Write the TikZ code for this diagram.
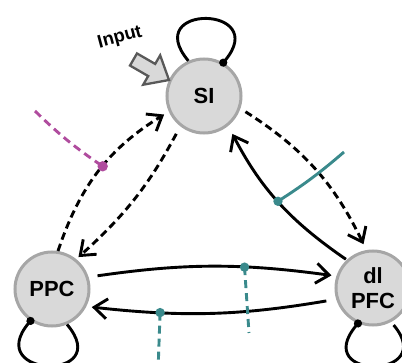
\documentclass[tikz,border=0pt]{standalone}
\usepackage{fontspec}
\setmainfont{Liberation Sans}
\usetikzlibrary{arrows.meta}
\definecolor{nodefill}{HTML}{D9D9D9}
\definecolor{nodeedge}{HTML}{A6A6A6}
\definecolor{magline}{HTML}{B04C9E}
\definecolor{tealline}{HTML}{3A8A8C}
\definecolor{inputedge}{HTML}{595959}
\begin{document}
\begin{tikzpicture}[x=1bp,y=1bp,
  area/.style={circle, draw=nodeedge, fill=nodefill, line width=3bp, minimum size=74bp, inner sep=0pt,
    font=\fontsize{22}{25}\selectfont\bfseries, align=center},
  conn/.style={line width=2.9bp, -{Straight Barb[length=13bp,width=20bp]}},
  dashedconn/.style={conn, dash pattern=on 7.5bp off 4.5bp},
  selfloop/.style={line width=2.9bp, -{Circle[length=8bp]}, shorten >=-4bp},
  modline/.style={line width=2.9bp},
  moddash/.style={modline, dash pattern=on 8bp off 5bp},
  inputarrow/.style={line width=2.3bp, draw=inputedge, fill=nodefill, line join=miter}
]
\useasboundingbox (0,0) rectangle (402,363);

% areas
\node[area] (SI) at (204,267) {SI};
\node[area] (PPC) at (52,74) {PPC};
\node[area] (PFC) at (373,75) {dl\\PFC};

% input
\node[font=\fontsize{18.5}{21}\selectfont\bfseries, rotate=15] (input) at (120,325) {Input};
\draw[inputarrow, shift={(169,283)}, rotate=-30]
  (0,0) -- (-20,17) -- (-20,7) -- (-41,7) -- (-41,-7) -- (-20,-7) -- (-20,-17) -- cycle;

% connectors
\draw[dashedconn, shorten >=5.5bp] (PPC.81) to[bend left=20] coordinate[pos=0.53] (mdot) (SI.204);
\draw[dashedconn, shorten <=8.5bp, shorten >=3bp] (SI.232) to[bend left=10] (PPC.51);
\draw[dashedconn, shorten <=6bp, shorten >=6.5bp] (SI.341) to[bend left=16] (PFC.100);
\draw[conn, shorten <=1bp, shorten >=9bp] (PFC.133) to[bend left=14] coordinate[pos=0.5] (tdot1) (SI.309);
\draw[conn, shorten <=9bp, shorten >=5bp] (PPC.18) to[bend left=8] coordinate[pos=0.64] (tdot2) (PFC.162);
\draw[conn, shorten <=10bp, shorten >=5.5bp] (PFC.197) to[bend left=8] coordinate[pos=0.72] (tdot3) (PPC.333);

% self loops
\draw[selfloop] (SI.114) .. controls +(130:75) and +(50:75) .. (SI.60);
\draw[selfloop] (PPC.293) .. controls +(-50:75) and +(-130:75) .. (PPC.236);
\draw[selfloop, shorten <=4bp] (PFC.298) .. controls +(-50:75) and +(-130:75) .. (PFC.247);

% modulatory inputs
\coordinate (mstart) at (35,252);
\draw[moddash, magline] (mstart) to[bend right=5] (mdot);
\fill[magline] (mdot) circle (5.2bp);

\coordinate (t1end) at (344,211);
\draw[modline, tealline] (tdot1) to[bend right=4] (t1end);
\fill[tealline] (tdot1) circle (4.7bp);

\coordinate (t2end) at (249,30);
\draw[moddash, tealline] (tdot2) -- (t2end);
\fill[tealline] (tdot2) circle (4.7bp);

\coordinate (t3end) at (158,-8);
\draw[moddash, tealline] (tdot3) -- (t3end);
\fill[tealline] (tdot3) circle (4.7bp);
\end{tikzpicture}
\end{document}
